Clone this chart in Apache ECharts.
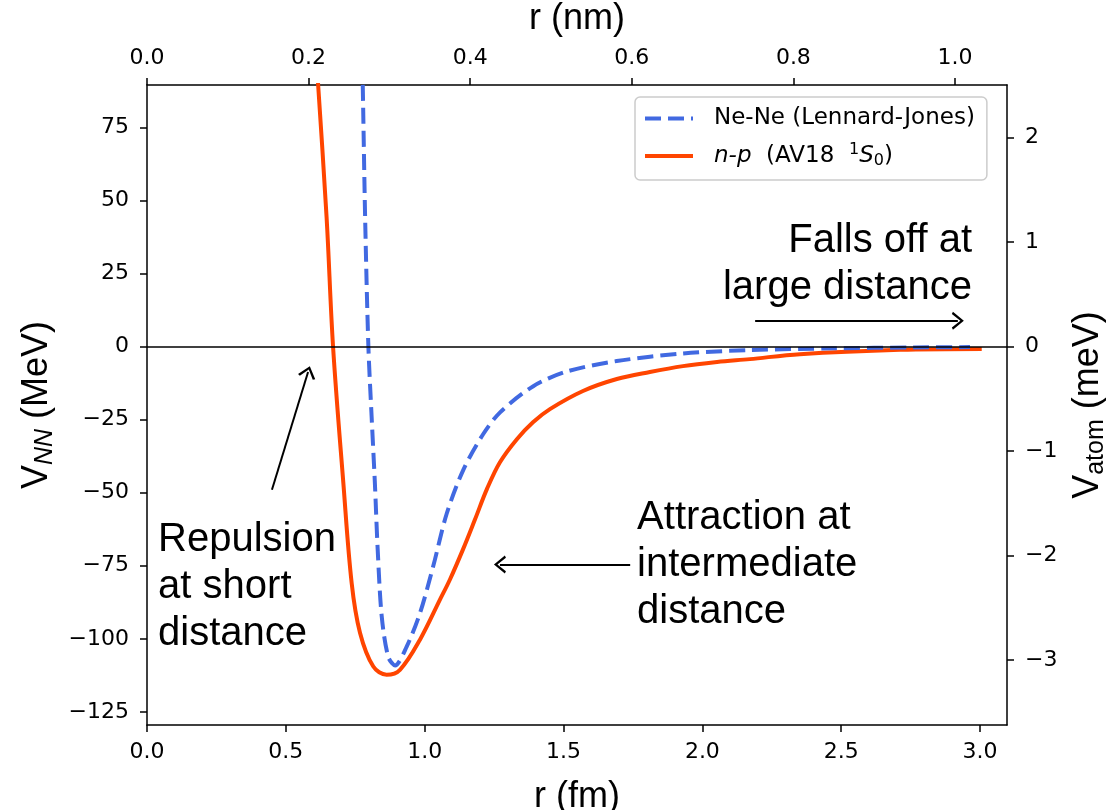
<!DOCTYPE html>
<html><head><meta charset="utf-8">
<script src="https://cdn.jsdelivr.net/npm/echarts@6/dist/echarts.min.js"></script>
<style>html,body{margin:0;padding:0;background:#fff}#c{width:1118px;height:810px}</style>
</head><body><div id="c"></div>
<script>
// n-p (AV18 1S0): r in fm, V in MeV (bottom / left axes)
const npR = [0.600, 0.616, 0.647, 0.670, 0.707, 0.737, 0.767, 0.815, 0.863, 0.911, 0.983, 1.055, 1.091, 1.138, 1.181, 1.224, 1.271, 1.332, 1.390, 1.451, 1.570, 1.692, 1.811, 1.930, 2.053, 2.171, 2.351, 2.712, 3.006];
const npV = [113, 90.0, 43.8, 0, -46.6, -80.9, -97.9, -109.5, -112.3, -110.6, -100.3, -86.6, -79.7, -69.4, -59.2, -48.8, -39.6, -31.7, -25.9, -21.4, -15.2, -11.1, -8.7, -6.7, -5.3, -4.3, -2.6, -1.1, -0.8];
// Ne-Ne (Lennard-Jones): r in nm, V in meV (top / right axes)
const neR = [0.264, 0.267, 0.270, 0.274, 0.278, 0.282, 0.2855, 0.2905, 0.2986, 0.307, 0.3214, 0.3379, 0.3543, 0.3709, 0.3915, 0.416, 0.437, 0.4781, 0.5194, 0.5813, 0.6637, 0.7463, 0.85, 0.95, 1.0186];
const neV = [3.6, 2.51, 1.22, 0, -0.67, -1.30, -1.94, -2.58, -2.97, -3.05, -2.87, -2.55, -2.10, -1.60, -1.18, -0.84, -0.63, -0.38, -0.24, -0.14, -0.067, -0.035, -0.018, -0.01, -0.006];

const fmTicks = [0, 0.5, 1.0, 1.5, 2.0, 2.5, 3.0];
const nmTicks = [0, 0.2, 0.4, 0.6, 0.8, 1.0];
const mevTicks = [-125, -100, -75, -50, -25, 0, 25, 50, 75];
const atomTicks = [-3, -2, -1, 0, 1, 2];

const legendNames = ['Ne-Ne (Lennard-Jones)', 'n-p (AV18 1S0)'];

// annotations (data coords on fm / MeV axes)
const noteText = ['Repulsion\nat short\ndistance', 'Attraction at\nintermediate\ndistance', 'Falls off at\nlarge distance'];
const noteAt = [[0.040, -82.3], [1.765, -74.9], [2.971, 28.1]];
const noteAlign = ['left', 'left', 'right'];
const arrowFrom = [[0.450, -49], [1.740, -74.6], [2.190, 8.8]];
const arrowTo = [[0.580, -8.7], [1.271, -74.6], [2.920, 8.8]];

const minus = s => String(s).replace('-', '\u2212');
const tickFont = { color: '#000', fontSize: 22, fontFamily: 'DejaVu Sans' };

function axis(ticks, fmt, min, max, margin, extra) {
  return Object.assign({
    type: 'value', min: min, max: max,
    axisLine: { show: true, onZero: false, lineStyle: { color: '#000', width: 1.5 } },
    axisTick: { show: true, length: 7, customValues: ticks, lineStyle: { color: '#000', width: 1.5 } },
    axisLabel: Object.assign({ customValues: ticks, formatter: fmt, margin: margin }, tickFont),
    splitLine: { show: false },
    nameLocation: 'middle',
    nameTextStyle: { color: '#000', fontSize: 36, fontFamily: 'Liberation Sans' }
  }, extra);
}

const chevron = 'path://M0,10 L6,0 L12,10 L10.5,11 L6,3.2 L1.5,11 Z';
const zip = (a, b) => a.map((v, i) => [v, b[i]]);
const yName = (italicSub) => ({
  color: '#000', fontSize: 36, fontFamily: 'Liberation Sans',
  rich: {
    v: { fontSize: 36, fontFamily: 'Liberation Sans' },
    s: { fontSize: 25, fontStyle: italicSub ? 'italic' : 'normal', fontFamily: 'Liberation Sans', padding: [17, 0, 0, 0] }
  }
});

const chart = echarts.init(document.getElementById('c'), null, { renderer: 'canvas' });
const option = {
  animation: false,
  backgroundColor: '#fff',
  grid: { left: 147, right: 111, top: 85, bottom: 85, containLabel: false, outerBoundsMode: 'none' },
  xAxis: [
    axis(fmTicks, v => v.toFixed(1), 0, 3.097, 16, { position: 'bottom', name: 'r (fm)', nameGap: 54 }),
    axis(nmTicks, v => v.toFixed(1), 0, 1.0644, 16, { position: 'top', name: 'r (nm)', nameGap: 48 })
  ],
  yAxis: [
    axis(mevTicks, v => minus(v), -129.5, 89.5, 18, {
      position: 'left', nameGap: 88, nameRotate: 90,
      name: '{v|V}{s|NN} (MeV)', nameTextStyle: yName(true)
    }),
    axis(atomTicks, v => minus(v), -3.62, 2.50, 18, {
      position: 'right', nameGap: 60, nameRotate: 90,
      name: '{v|V}{s|atom} (meV)', nameTextStyle: yName(false)
    })
  ],
  legend: {
    orient: 'vertical', left: 635, top: 97,
    data: legendNames,
    itemWidth: 48, itemHeight: 12, itemGap: 12,
    padding: [10, 12, 10, 8],
    backgroundColor: 'rgba(255,255,255,0.8)',
    borderColor: '#cccccc', borderWidth: 1.5, borderRadius: 5,
    itemStyle: { opacity: 0 },
    lineStyle: { width: 4 },
    formatter: n => n === legendNames[0] ? '{t|Ne-Ne (Lennard-Jones)}' : '{i|n-p}{t|  (AV18  }{sup|1}{i|S}{sub|0}{t|)}',
    textStyle: {
      color: '#000', fontSize: 23, fontFamily: 'DejaVu Sans', padding: [0, 0, 0, 16],
      rich: {
        t: { fontSize: 23, fontFamily: 'DejaVu Sans', lineHeight: 30 },
        i: { fontSize: 23, fontFamily: 'DejaVu Sans', fontStyle: 'italic', lineHeight: 30 },
        sup: { fontSize: 16, fontFamily: 'DejaVu Sans', lineHeight: 30, padding: [0, 0, 12, 0] },
        sub: { fontSize: 16, fontFamily: 'DejaVu Sans', lineHeight: 30, padding: [10, 0, 0, 0] }
      }
    }
  },
  series: [
    {
      name: legendNames[0], type: 'line', xAxisIndex: 1, yAxisIndex: 1,
      data: zip(neR, neV), symbol: 'none', showSymbol: false, smooth: 0.3,
      color: '#4169E1',
      lineStyle: { color: '#4169E1', width: 4, type: [16, 7] },
      z: 3
    },
    {
      name: legendNames[1], type: 'line', xAxisIndex: 0, yAxisIndex: 0,
      data: zip(npR, npV), symbol: 'none', showSymbol: false, smooth: 0.35,
      color: '#FF4500',
      lineStyle: { color: '#FF4500', width: 4 },
      z: 2,
      markLine: {
        silent: true, animation: false,
        symbol: ['none', 'none'],
        label: { show: false },
        emphasis: { disabled: true },
        lineStyle: { color: '#000', width: 1.5, type: 'solid' },
        data: [{ yAxis: 0 }].concat(arrowFrom.map((f, i) => [
          { coord: f, symbol: 'none', lineStyle: { color: '#000', width: 2, type: 'solid' } },
          { coord: arrowTo[i], symbol: chevron, symbolSize: [18, 12] }
        ]))
      }
    }
  ]
};
chart.setOption(option);

const graphics = noteText.map((t, i) => {
  const p = chart.convertToPixel({ xAxisIndex: 0, yAxisIndex: 0 }, noteAt[i]);
  return {
    type: 'text', x: p[0], y: p[1], z: 10,
    style: { text: t, fill: '#000', fontSize: 40, fontFamily: 'Liberation Sans',
      align: noteAlign[i], verticalAlign: 'middle', lineHeight: 47 }
  };
});
chart.setOption({ graphic: graphics });
</script></body></html>
